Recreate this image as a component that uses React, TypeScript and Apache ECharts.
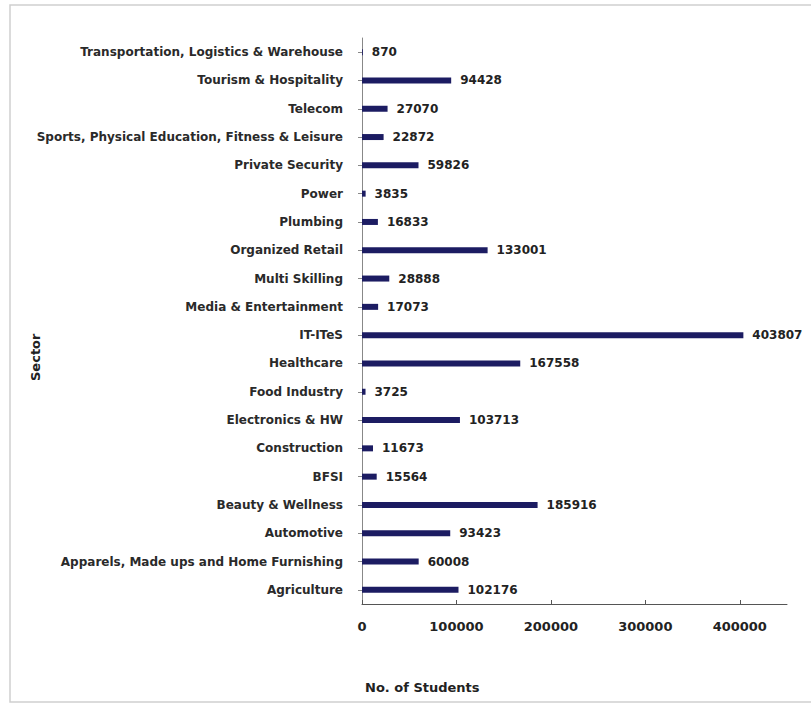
import React, { useEffect, useRef } from "react";
import * as echarts from "echarts";

const categories = [
  "Agriculture",
  "Apparels, Made ups and Home Furnishing",
  "Automotive",
  "Beauty & Wellness",
  "BFSI",
  "Construction",
  "Electronics & HW",
  "Food Industry",
  "Healthcare",
  "IT-ITeS",
  "Media & Entertainment",
  "Multi Skilling",
  "Organized Retail",
  "Plumbing",
  "Power",
  "Private Security",
  "Sports, Physical Education, Fitness & Leisure",
  "Telecom",
  "Tourism & Hospitality",
  "Transportation, Logistics & Warehouse",
];

const students = [
  102176, 60008, 93423, 185916, 15564, 11673, 103713, 3725, 167558, 403807,
  17073, 28888, 133001, 16833, 3835, 59826, 22872, 27070, 94428, 870,
];

const xTicks = [0, 100000, 200000, 300000, 400000];

export default function App() {
  const ref = useRef<HTMLDivElement>(null);
  useEffect(() => {
    if (!ref.current) return;
    const chart = echarts.init(ref.current, undefined, { renderer: "svg" });
    const font = "DejaVu Sans";
    chart.setOption({
      animation: false,
      backgroundColor: "#ffffff",
      textStyle: { fontFamily: font },
      grid: { left: 362, right: 24, top: 38, bottom: 102, containLabel: false },
      xAxis: {
        type: "value",
        min: 0,
        max: 450000,
        interval: 100000,
        axisLine: { show: true, lineStyle: { color: "#555", width: 1 } },
        axisTick: { show: true, length: 4, inside: true, lineStyle: { color: "#555" } },
        splitLine: { show: false },
        axisLabel: {
          margin: 16,
          fontSize: 13,
          fontWeight: "bold",
          color: "#222",
          fontFamily: font,
          showMaxLabel: false,
          formatter: (v: number) => (xTicks.includes(v) ? String(v) : ""),
        },
      },
      yAxis: {
        type: "category",
        data: categories,
        axisLine: { show: true, lineStyle: { color: "#888", width: 1 } },
        axisTick: { show: true, length: 4, alignWithLabel: true, lineStyle: { color: "#888" } },
        axisLabel: {
          margin: 19,
          fontSize: 12,
          fontWeight: "bold",
          color: "#2a2a2a",
          fontFamily: font,
        },
      },
      series: [
        {
          type: "bar",
          data: students,
          barWidth: 6,
          itemStyle: { color: "#1c1c62" },
          label: {
            show: true,
            position: "right",
            distance: 9,
            fontSize: 12,
            fontWeight: "bold",
            color: "#222",
            fontFamily: font,
          },
        },
      ],
      graphic: [
        {
          type: "rect",
          shape: { x: 10, y: 5, width: 820, height: 697 },
          style: { fill: "none", stroke: "#cfcfcf", lineWidth: 1.5 },
          silent: true,
        },
        {
          type: "text",
          x: 365,
          y: 681,
          style: {
            text: "No. of Students",
            fontSize: 13,
            fontWeight: "bold",
            fill: "#222",
            fontFamily: font,
          },
        },
        {
          type: "text",
          x: 29,
          y: 381,
          rotation: Math.PI / 2,
          style: {
            text: "Sector",
            fontSize: 13,
            fontWeight: "bold",
            fill: "#222",
            fontFamily: font,
          },
        },
      ],
    });
    return () => chart.dispose();
  }, []);
  return (
    <div
      ref={ref}
      style={{ position: "absolute", left: 0, top: 0, width: 811, height: 706 }}
    />
  );
}
